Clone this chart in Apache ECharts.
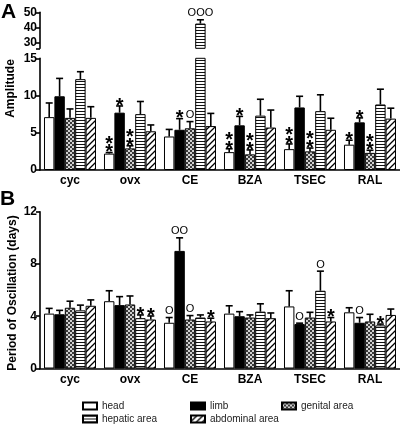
<!DOCTYPE html>
<html><head><meta charset="utf-8">
<script src="https://cdn.jsdelivr.net/npm/echarts@6/dist/echarts.min.js"></script>
<style>html,body{margin:0;padding:0;background:#fff}#c{width:400px;height:428px}</style>
</head><body><div id="c"></div>
<script>
const categories = ['cyc', 'ovx', 'CE', 'BZA', 'TSEC', 'RAL'];
const parts = ['head', 'limb', 'genital area', 'hepatic area', 'abdominal area'];

// Panel A: Amplitude (mean, SEM, significance marks)
const ampHead = [7.1, 2.2, 4.5, 2.4, 2.8, 3.4];
const ampHeadErr = [1.9, 0.15, 0.95, 0.45, 0.7, 0.6];
const ampHeadSig = ['', '**', '', '**', '**', '*'];
const ampLimb = [9.9, 7.7, 5.4, 6.0, 8.4, 6.4];
const ampLimbErr = [2.4, 0.9, 1.5, 1.2, 1.5, 0.6];
const ampLimbSig = ['', '*', '*', '*', '', '*'];
const ampGenital = [7.0, 2.9, 5.6, 2.1, 2.5, 2.3];
const ampGenitalErr = [1.2, 0.35, 0.9, 0.6, 0.45, 0.35];
const ampGenitalSig = ['', '**', 'O', '**', '**', '**'];
const ampHepatic = [12.2, 7.5, 42.5, 7.3, 7.9, 8.8];
const ampHepaticErr = [1.0, 1.7, 2.5, 2.2, 2.2, 2.05];
const ampHepaticSig = ['', '', 'OOO', '', '', ''];
const ampAbdominal = [7.0, 5.2, 5.9, 5.7, 5.4, 6.9];
const ampAbdominalErr = [1.5, 0.85, 1.7, 2.35, 1.55, 1.4];
const ampAbdominalSig = ['', '', '', '', '', ''];

// Panel B: Period of oscillation (days)
const perHead = [4.2, 5.15, 3.5, 4.2, 4.75, 4.3];
const perHeadErr = [0.4, 0.8, 0.4, 0.6, 1.2, 0.35];
const perHeadSig = ['', '', 'O', '', '', ''];
const perLimb = [4.15, 4.85, 9.0, 4.0, 3.4, 3.5];
const perLimbErr = [0.3, 0.65, 1.0, 0.35, 0.07, 0.4];
const perLimbSig = ['', '', 'OO', '', 'O', 'O'];
const perGenital = [4.65, 4.9, 3.75, 3.9, 3.9, 3.6];
const perGenitalErr = [0.5, 0.65, 0.3, 0.2, 0.4, 0.55];
const perGenitalSig = ['', '', 'O', '', '', ''];
const perHepatic = [4.45, 3.85, 3.9, 4.35, 5.95, 3.3];
const perHepaticErr = [0.4, 0.25, 0.2, 0.6, 1.5, 0.1];
const perHepaticSig = ['', '*', '', '', 'O', '*'];
const perAbdominal = [4.8, 3.75, 3.6, 3.85, 3.6, 4.1];
const perAbdominalErr = [0.45, 0.27, 0.25, 0.4, 0.3, 0.45];
const perAbdominalSig = ['', '*', '*', '', '*', ''];

// Axis ticks
const ampUpperTicks = [26, 30, 40, 50];
const ampUpperLabels = [30, 40, 50];
const ampLowerTicks = [0, 5, 10, 15];
const perTicks = [0, 4, 8, 12];

const FONT = 'Liberation Sans, Arial, sans-serif';
const GAP = 0.133;

function pattern(kind) {
  const cv = document.createElement('canvas');
  const g = cv.getContext('2d');
  if (kind === 'check') {
    cv.width = 4; cv.height = 4;
    g.fillStyle = '#d0d0d0'; g.fillRect(0, 0, 4, 4);
    g.fillStyle = '#3a3a3a'; g.fillRect(0, 0, 2, 2); g.fillRect(2, 2, 2, 2);
  } else if (kind === 'hstripe') {
    cv.width = 4; cv.height = 3;
    g.fillStyle = '#fff'; g.fillRect(0, 0, 4, 3);
    g.fillStyle = '#111'; g.fillRect(0, 0, 4, 1);
  } else if (kind === 'diag') {
    cv.width = 6; cv.height = 6;
    g.fillStyle = '#fff'; g.fillRect(0, 0, 6, 6);
    g.strokeStyle = '#000'; g.lineWidth = 1.3;
    g.beginPath();
    g.moveTo(-1, 7); g.lineTo(7, -1);
    g.moveTo(-4, 4); g.lineTo(4, -4);
    g.moveTo(2, 10); g.lineTo(10, 2);
    g.stroke();
  }
  return { image: cv, repeat: 'repeat' };
}
const fills = ['#ffffff', '#000000', pattern('check'), pattern('hstripe'), pattern('diag')];

const ampMeans = [ampHead, ampLimb, ampGenital, ampHepatic, ampAbdominal];
const ampErrs = [ampHeadErr, ampLimbErr, ampGenitalErr, ampHepaticErr, ampAbdominalErr];
const ampSigs = [ampHeadSig, ampLimbSig, ampGenitalSig, ampHepaticSig, ampAbdominalSig];
const perMeans = [perHead, perLimb, perGenital, perHepatic, perAbdominal];
const perErrs = [perHeadErr, perLimbErr, perGenitalErr, perHepaticErr, perAbdominalErr];
const perSigs = [perHeadSig, perLimbSig, perGenitalSig, perHepaticSig, perAbdominalSig];

const UPPER_MIN = 26, UPPER_MAX = 50, LOWER_MAX = 15;

function errRender(k, sigs) {
  return function (params, api) {
    const cat = api.value(0), mean = api.value(1), top = api.value(2);
    const band = api.size([1, 0])[0];
    const bw = band * (1 - GAP) / 5;
    const pTop = api.coord([cat, top]);
    const pMean = api.coord([cat, mean]);
    const x = pTop[0] + (k - 2) * bw;
    const children = [
      { type: 'line', shape: { x1: x, y1: pMean[1], x2: x, y2: pTop[1] }, style: { stroke: '#000', lineWidth: 1.6 } },
      { type: 'line', shape: { x1: x - 3.5, y1: pTop[1], x2: x + 3.5, y2: pTop[1] }, style: { stroke: '#000', lineWidth: 1.6 } }
    ];
    const s = sigs[cat];
    if (s) {
      if (s.indexOf('*') >= 0) {
        children.push({ type: 'text', x: x, y: pTop[1] + 4.5, style: {
          text: s.split('').join('\n'), textAlign: 'center', textVerticalAlign: 'bottom',
          font: 'bold 20px ' + FONT, lineHeight: 8.5, fill: '#000' } });
      } else {
        children.push({ type: 'text', x: x, y: pTop[1] - 1, style: {
          text: s, textAlign: 'center', textVerticalAlign: 'bottom',
          font: '11px ' + FONT, fill: '#000' } });
      }
    }
    return { type: 'group', children: children };
  };
}

const series = [];
for (let k = 0; k < 5; k++) {
  const common = { type: 'bar', name: parts[k], barGap: 0, barCategoryGap: (GAP * 100) + '%',
    itemStyle: { color: fills[k], borderColor: '#000', borderWidth: 1 }, emphasis: { disabled: true }, animation: false };
  series.push(Object.assign({}, common, { xAxisIndex: 0, yAxisIndex: 0,
    data: ampMeans[k].map(v => v > UPPER_MIN ? v : '-') }));
  series.push(Object.assign({}, common, { xAxisIndex: 1, yAxisIndex: 1, data: ampMeans[k].slice() }));
  series.push(Object.assign({}, common, { xAxisIndex: 2, yAxisIndex: 2, data: perMeans[k].slice() }));

  const ampItems = ampMeans[k].map((v, i) => [i, v, v + ampErrs[k][i]]);
  series.push({ type: 'custom', name: parts[k] + ' err A1', xAxisIndex: 0, yAxisIndex: 0, z: 5, clip: false,
    renderItem: errRender(k, ampSigs[k]), data: ampItems.filter(d => d[1] > UPPER_MIN), animation: false });
  series.push({ type: 'custom', name: parts[k] + ' err A2', xAxisIndex: 1, yAxisIndex: 1, z: 5, clip: false,
    renderItem: errRender(k, ampSigs[k]), data: ampItems.filter(d => d[2] <= LOWER_MAX), animation: false });
  series.push({ type: 'custom', name: parts[k] + ' err B', xAxisIndex: 2, yAxisIndex: 2, z: 5, clip: false,
    renderItem: errRender(k, perSigs[k]),
    data: perMeans[k].map((v, i) => [i, v, v + perErrs[k][i]]), animation: false });
}

const axisLineStyle = { lineStyle: { color: '#000', width: 1.6 } };
const tickStyle = { length: 4, lineStyle: { color: '#000', width: 1.6 } };
const yLabel = { color: '#000', fontWeight: 'bold', fontSize: 12, fontFamily: FONT, margin: 3 };
const xLabel = { color: '#000', fontWeight: 'bold', fontSize: 12, fontFamily: FONT, margin: 5 };

const legends = [
  { name: 'head', left: 82, top: 401 },
  { name: 'limb', left: 190, top: 401 },
  { name: 'genital area', left: 281, top: 401 },
  { name: 'hepatic area', left: 82, top: 414 },
  { name: 'abdominal area', left: 190, top: 414 }
].map(l => ({ data: [l.name], left: l.left, top: l.top, padding: 0, icon: 'rect', itemWidth: 14, itemHeight: 7,
  selectedMode: false, textStyle: { fontSize: 10, color: '#222', fontFamily: FONT } }));

const option = {
  animation: false,
  backgroundColor: '#fff',
  grid: [
    { left: 40, width: 360, top: 12.3, height: 36 },
    { left: 40, width: 360, top: 58.3, height: 111.7 },
    { left: 40, width: 360, top: 211.7, height: 156.8 }
  ],
  xAxis: [
    { type: 'category', gridIndex: 0, data: categories, show: false },
    { type: 'category', gridIndex: 1, data: categories, axisLine: axisLineStyle,
      axisTick: Object.assign({ alignWithLabel: true }, tickStyle), axisLabel: xLabel },
    { type: 'category', gridIndex: 2, data: categories, axisLine: axisLineStyle,
      axisTick: Object.assign({ alignWithLabel: true }, tickStyle), axisLabel: xLabel }
  ],
  yAxis: [
    { type: 'value', gridIndex: 0, min: UPPER_MIN, max: UPPER_MAX, splitLine: { show: false },
      axisLine: Object.assign({ show: true }, axisLineStyle),
      axisTick: Object.assign({ show: true, customValues: ampUpperTicks }, tickStyle),
      axisLabel: Object.assign({ customValues: ampUpperLabels }, yLabel) },
    { type: 'value', gridIndex: 1, min: 0, max: LOWER_MAX, interval: 5, splitLine: { show: false },
      axisLine: Object.assign({ show: true }, axisLineStyle),
      axisTick: Object.assign({ show: true, customValues: ampLowerTicks }, tickStyle),
      axisLabel: Object.assign({ customValues: ampLowerTicks }, yLabel) },
    { type: 'value', gridIndex: 2, min: 0, max: 12, interval: 4, splitLine: { show: false },
      axisLine: Object.assign({ show: true }, axisLineStyle),
      axisTick: Object.assign({ show: true, customValues: perTicks }, tickStyle),
      axisLabel: Object.assign({ customValues: perTicks }, yLabel) }
  ],
  legend: legends,
  graphic: [
    { type: 'text', left: 1, top: 2, style: { text: 'A', font: 'bold 21px ' + FONT, fill: '#000' } },
    { type: 'text', left: 0, top: 189, style: { text: 'B', font: 'bold 21px ' + FONT, fill: '#000' } },
    { type: 'text', x: 11, y: 88.5, rotation: Math.PI / 2,
      style: { text: 'Amplitude', font: 'bold 12px ' + FONT, fill: '#000', textAlign: 'center', textVerticalAlign: 'middle' } },
    { type: 'text', x: 12.5, y: 293, rotation: Math.PI / 2,
      style: { text: 'Period of Oscillation (days)', font: 'bold 12px ' + FONT, fill: '#000', textAlign: 'center', textVerticalAlign: 'middle' } }
  ],
  series: series
};
const chart = echarts.init(document.getElementById('c'), null, { renderer: 'canvas' });
chart.setOption(option);
</script>
</body></html>
